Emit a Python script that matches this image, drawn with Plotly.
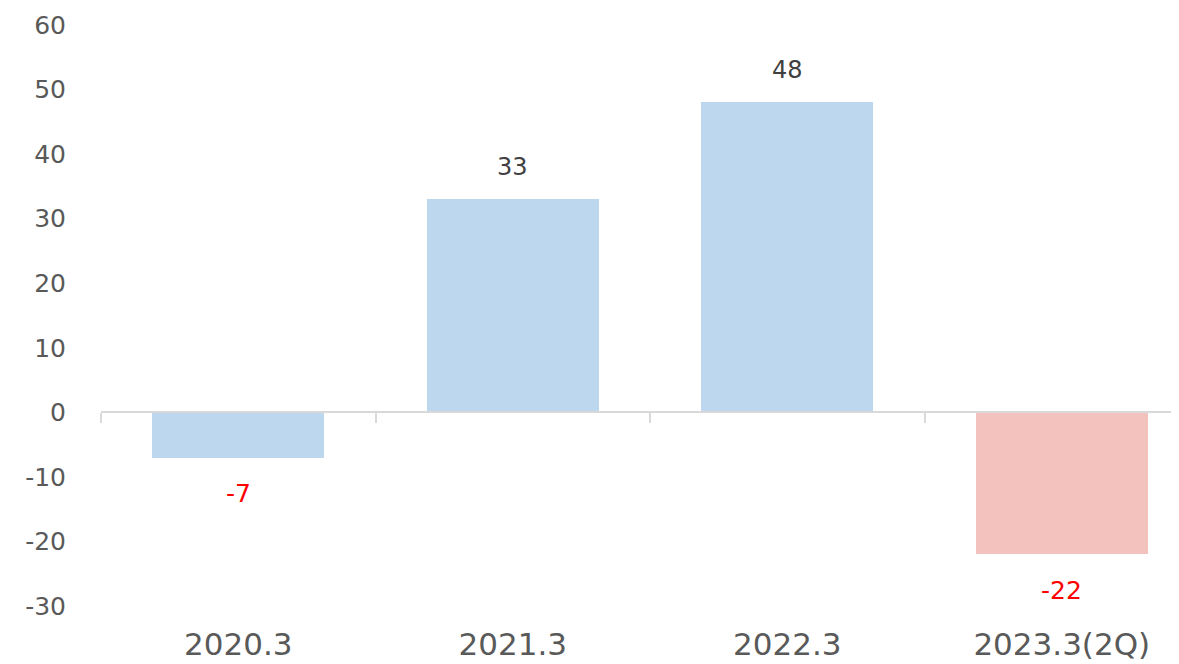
import plotly.graph_objects as go

categories = ["2020.3", "2021.3", "2022.3", "2023.3(2Q)"]
values = [-7, 33, 48, -22]
y_ticks = [-30, -20, -10, 0, 10, 20, 30, 40, 50, 60]
y_tick_text = [str(t) for t in y_ticks]  # plain hyphen for negatives

bar_colors = ["#BDD7EE", "#BDD7EE", "#BDD7EE", "#F4C2BE"]
FONT = "DejaVu Sans"

fig = go.Figure()
fig.add_trace(go.Bar(
    x=categories, y=values, width=0.625,
    marker=dict(color=bar_colors, line=dict(width=0)),
    hoverinfo="skip", showlegend=False,
))
# helper trace for the axis at zero with boundary ticks
fig.add_trace(go.Scatter(
    x=categories, y=[0] * len(categories), xaxis="x2", mode="none",
    hoverinfo="skip", showlegend=False,
))

for i, v in enumerate(values):
    fig.add_annotation(
        x=i, y=v, xref="x", yref="y", text=str(v), showarrow=False,
        yanchor="middle", yshift=32 if v >= 0 else -36,
        font=dict(family=FONT, size=24 if v >= 0 else 25,
                  color="#404040" if v >= 0 else "#FF0000"),
    )

xr = [-0.5, 3.427]
fig.update_layout(
    width=1171, height=656,
    margin=dict(l=93, r=0, t=17, b=58, autoexpand=False),
    paper_bgcolor="white", plot_bgcolor="white",
    bargap=0,
    xaxis=dict(
        type="category", categoryarray=categories, range=xr,
        showline=False, showgrid=False, zeroline=False, ticks="",
        tickfont=dict(family=FONT, size=31, color="#595959"),
        ticklabelstandoff=17, automargin=False,
    ),
    xaxis2=dict(
        type="category", categoryarray=categories, range=xr,
        overlaying="x", anchor="free", position=1 / 3,
        showline=True, linecolor="#D9D9D9", linewidth=2,
        ticks="outside", tickson="boundaries", ticklen=10,
        tickcolor="#D9D9D9", tickwidth=2,
        showticklabels=False, showgrid=False, zeroline=False,
        automargin=False,
    ),
    yaxis=dict(
        range=[-30, 60], tickvals=y_ticks, ticktext=y_tick_text,
        showgrid=False, zeroline=False, showline=False, ticks="",
        tickfont=dict(family=FONT, size=25, color="#595959"),
        ticklabelstandoff=34, automargin=False,
    ),
)

fig.write_html("out.html")
